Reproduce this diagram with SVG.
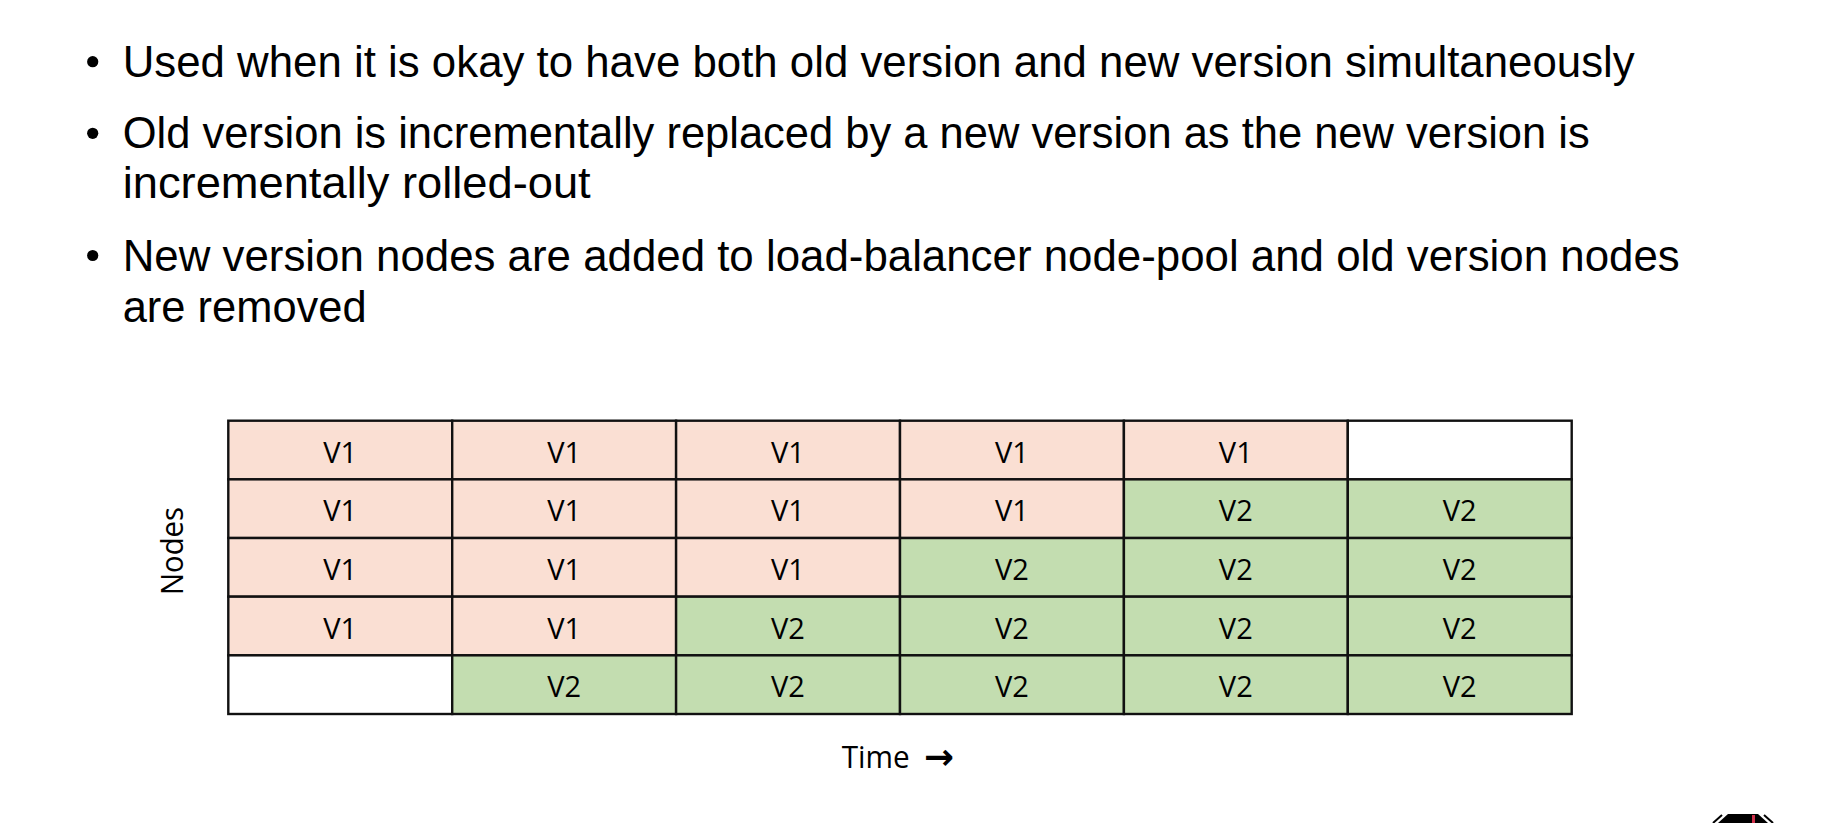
<svg xmlns="http://www.w3.org/2000/svg" width="1829" height="823" viewBox="0 0 1829 823">
  <style>
    .bullet-text { font-family: "Liberation Sans", Arial, sans-serif; font-size: 44px; fill: #000; }
    .dot { fill: #000; }
    .cell rect { stroke: #111; stroke-width: 2.4; }
    .old rect { fill: #FADFD3; }
    .new rect { fill: #C3DDB0; }
    .empty rect { fill: #FFFFFF; }
    .cell text { font-family: "Open Sans", "Liberation Sans", sans-serif; font-size: 29px; fill: #000; text-anchor: middle; }
    .axis { font-family: "Open Sans", "Liberation Sans", sans-serif; font-size: 31px; fill: #000; }
    .arrow { font-family: "DejaVu Sans", sans-serif; font-size: 36px; font-weight: bold; fill: #000; }
  </style>

  <rect x="0" y="0" width="1829" height="823" fill="#FFFFFF"/>

  <!-- bullet list -->
  <g id="bullets">
    <circle class="dot" cx="92.7" cy="61.7" r="5.6"/>
    <text class="bullet-text" x="122.7" y="76.7" textLength="1512" lengthAdjust="spacingAndGlyphs">Used when it is okay to have both old version and new version simultaneously</text>
    <circle class="dot" cx="92.7" cy="133.3" r="5.6"/>
    <text class="bullet-text" x="122.7" y="148.3" textLength="1467" lengthAdjust="spacingAndGlyphs">Old version is incrementally replaced by a new version as the new version is</text>
    <text class="bullet-text" x="122.7" y="198.3" textLength="468" lengthAdjust="spacingAndGlyphs">incrementally rolled-out</text>
    <circle class="dot" cx="92.7" cy="255.5" r="5.6"/>
    <text class="bullet-text" x="122.7" y="270.5" textLength="1557" lengthAdjust="spacingAndGlyphs">New version nodes are added to load-balancer node-pool and old version nodes</text>
    <text class="bullet-text" x="122.7" y="322" textLength="244" lengthAdjust="spacingAndGlyphs">are removed</text>
  </g>

  <!-- rollout grid: rows are nodes, columns are time steps -->
  <g id="grid">
    <!-- row 1 -->
    <g id="r1c1" class="cell old"><rect x="228.3" y="420.7" width="223.9" height="58.66"/><text x="340.2" y="462.5">V1</text></g>
    <g id="r1c2" class="cell old"><rect x="452.2" y="420.7" width="223.9" height="58.66"/><text x="564.1" y="462.5">V1</text></g>
    <g id="r1c3" class="cell old"><rect x="676.1" y="420.7" width="223.9" height="58.66"/><text x="788.0" y="462.5">V1</text></g>
    <g id="r1c4" class="cell old"><rect x="900.0" y="420.7" width="223.9" height="58.66"/><text x="1011.9" y="462.5">V1</text></g>
    <g id="r1c5" class="cell old"><rect x="1123.9" y="420.7" width="223.9" height="58.66"/><text x="1235.8" y="462.5">V1</text></g>
    <g id="r1c6" class="cell empty"><rect x="1347.8" y="420.7" width="223.9" height="58.66"/></g>
    <!-- row 2 -->
    <g id="r2c1" class="cell old"><rect x="228.3" y="479.36" width="223.9" height="58.66"/><text x="340.2" y="521.2">V1</text></g>
    <g id="r2c2" class="cell old"><rect x="452.2" y="479.36" width="223.9" height="58.66"/><text x="564.1" y="521.2">V1</text></g>
    <g id="r2c3" class="cell old"><rect x="676.1" y="479.36" width="223.9" height="58.66"/><text x="788.0" y="521.2">V1</text></g>
    <g id="r2c4" class="cell old"><rect x="900.0" y="479.36" width="223.9" height="58.66"/><text x="1011.9" y="521.2">V1</text></g>
    <g id="r2c5" class="cell new"><rect x="1123.9" y="479.36" width="223.9" height="58.66"/><text x="1235.8" y="521.2">V2</text></g>
    <g id="r2c6" class="cell new"><rect x="1347.8" y="479.36" width="223.9" height="58.66"/><text x="1459.7" y="521.2">V2</text></g>
    <!-- row 3 -->
    <g id="r3c1" class="cell old"><rect x="228.3" y="538.02" width="223.9" height="58.66"/><text x="340.2" y="579.8">V1</text></g>
    <g id="r3c2" class="cell old"><rect x="452.2" y="538.02" width="223.9" height="58.66"/><text x="564.1" y="579.8">V1</text></g>
    <g id="r3c3" class="cell old"><rect x="676.1" y="538.02" width="223.9" height="58.66"/><text x="788.0" y="579.8">V1</text></g>
    <g id="r3c4" class="cell new"><rect x="900.0" y="538.02" width="223.9" height="58.66"/><text x="1011.9" y="579.8">V2</text></g>
    <g id="r3c5" class="cell new"><rect x="1123.9" y="538.02" width="223.9" height="58.66"/><text x="1235.8" y="579.8">V2</text></g>
    <g id="r3c6" class="cell new"><rect x="1347.8" y="538.02" width="223.9" height="58.66"/><text x="1459.7" y="579.8">V2</text></g>
    <!-- row 4 -->
    <g id="r4c1" class="cell old"><rect x="228.3" y="596.68" width="223.9" height="58.66"/><text x="340.2" y="638.5">V1</text></g>
    <g id="r4c2" class="cell old"><rect x="452.2" y="596.68" width="223.9" height="58.66"/><text x="564.1" y="638.5">V1</text></g>
    <g id="r4c3" class="cell new"><rect x="676.1" y="596.68" width="223.9" height="58.66"/><text x="788.0" y="638.5">V2</text></g>
    <g id="r4c4" class="cell new"><rect x="900.0" y="596.68" width="223.9" height="58.66"/><text x="1011.9" y="638.5">V2</text></g>
    <g id="r4c5" class="cell new"><rect x="1123.9" y="596.68" width="223.9" height="58.66"/><text x="1235.8" y="638.5">V2</text></g>
    <g id="r4c6" class="cell new"><rect x="1347.8" y="596.68" width="223.9" height="58.66"/><text x="1459.7" y="638.5">V2</text></g>
    <!-- row 5 -->
    <g id="r5c1" class="cell empty"><rect x="228.3" y="655.34" width="223.9" height="58.66"/></g>
    <g id="r5c2" class="cell new"><rect x="452.2" y="655.34" width="223.9" height="58.66"/><text x="564.1" y="697.2">V2</text></g>
    <g id="r5c3" class="cell new"><rect x="676.1" y="655.34" width="223.9" height="58.66"/><text x="788.0" y="697.2">V2</text></g>
    <g id="r5c4" class="cell new"><rect x="900.0" y="655.34" width="223.9" height="58.66"/><text x="1011.9" y="697.2">V2</text></g>
    <g id="r5c5" class="cell new"><rect x="1123.9" y="655.34" width="223.9" height="58.66"/><text x="1235.8" y="697.2">V2</text></g>
    <g id="r5c6" class="cell new"><rect x="1347.8" y="655.34" width="223.9" height="58.66"/><text x="1459.7" y="697.2">V2</text></g>
  </g>

  <g id="connectors"/>

  <!-- axis labels -->
  <g id="axis-nodes">
    <text class="axis" transform="translate(183.3,551) rotate(-90)" text-anchor="middle" textLength="88" lengthAdjust="spacingAndGlyphs">Nodes</text>
  </g>
  <g id="axis-time">
    <text class="axis" x="841.7" y="768.3" textLength="68" lengthAdjust="spacingAndGlyphs">Time</text>
    <text class="arrow" x="924" y="769" textLength="30" lengthAdjust="spacingAndGlyphs">→</text>
  </g>

  <!-- corner badge, mostly off-canvas -->
  <g id="badge">
    <path d="M1718,823 L1728,814 L1758,814 L1768,823 Z" fill="#000"/>
    <path d="M1713,823 L1722,815" stroke="#000" stroke-width="2" fill="none"/>
    <path d="M1773,823 L1764,815" stroke="#000" stroke-width="2" fill="none"/>
    <rect x="1752" y="815" width="3" height="8" fill="#D0304A"/>
  </g>
</svg>
